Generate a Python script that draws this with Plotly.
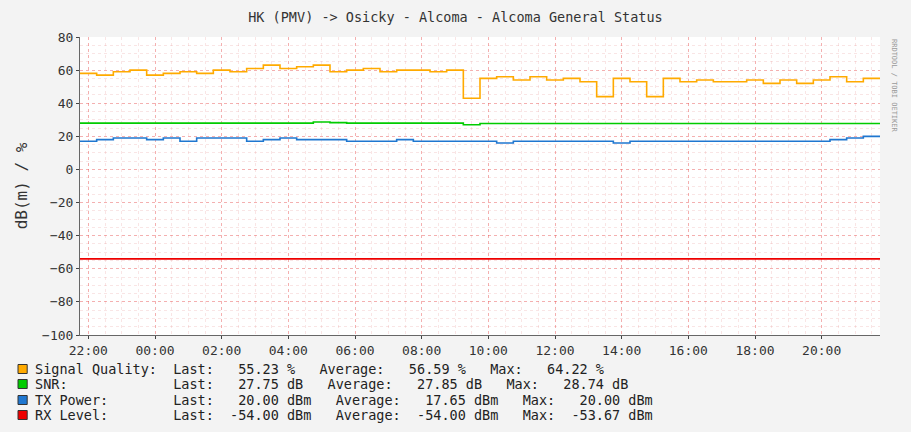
import plotly.graph_objects as go
import pandas as pd

times = pd.date_range("2024-01-01 21:45", periods=49, freq="30min")

signal = [58, 57, 59, 60, 57, 58, 59, 58, 60, 59, 61, 63, 61, 62, 63, 59,
          60, 61, 59, 60, 60, 59, 60, 43, 55, 56, 54, 56, 54, 55, 53, 44,
          55, 53, 44, 55, 53, 54, 53, 53, 54, 52, 54, 52, 54, 56, 53, 55, 55]
snr = [28, 28, 28, 28, 28, 28, 28, 28, 28, 28, 28, 28, 28, 28, 28.7, 28.3,
       28, 28, 28, 28, 28, 28, 28, 27, 27.75, 27.75, 27.75, 27.75, 27.75, 27.75, 27.75, 27.75,
       27.75, 27.75, 27.75, 27.75, 27.75, 27.75, 27.75, 27.75, 27.75, 27.75, 27.75, 27.75, 27.75, 27.75, 27.75, 27.75, 27.75]
tx = [17, 18, 19, 19, 18, 19, 17, 19, 19, 19, 17, 18, 19, 18, 18, 18,
      17, 17, 17, 18, 17, 17, 17, 17, 17, 16, 17, 17, 17, 17, 17, 17,
      16, 17, 17, 17, 17, 17, 17, 17, 17, 17, 17, 17, 17, 18, 19, 20, 20]
rx = [-54] * 49

names = ["Signal Quality:", "SNR:", "TX Power:", "RX Level:"]
colors = ["#FFAA00", "#00CC00", "#1F77D0", "#EE0000"]
legend_lines = [
    "Signal Quality:  Last:   55.23 %   Average:   56.59 %   Max:   64.22 %",
    "SNR:             Last:   27.75 dB   Average:   27.85 dB   Max:   28.74 dB",
    "TX Power:        Last:   20.00 dBm   Average:   17.65 dBm   Max:   20.00 dBm",
    "RX Level:        Last:  -54.00 dBm   Average:  -54.00 dBm   Max:  -53.67 dBm",
]

fig = go.Figure()
for ys, nm, c in zip([signal, snr, tx, rx], names, colors):
    fig.add_trace(go.Scatter(x=times, y=ys, name=nm, mode="lines",
                             line=dict(color=c, width=1.6, shape="hv")))

mono = "DejaVu Sans Mono"
fig.update_layout(
    width=911, height=432, showlegend=False,
    margin=dict(l=80, r=31, t=37, b=97),
    paper_bgcolor="#F3F3F3", plot_bgcolor="white",
    font=dict(family=mono, size=13, color="#333"),
    title=dict(text="HK (PMV) -> Osicky - Alcoma - Alcoma General Status",
               x=0.5, y=0.97, xanchor="center", font=dict(size=13.5)),
)
fig.update_xaxes(
    range=[times[0], times[-1]], automargin=False,
    dtick=7200000, tick0="2024-01-01 22:00", tickformat="%H:%M",
    showgrid=True, gridcolor="rgba(230,80,80,0.45)", griddash="dot", gridwidth=1,
    minor=dict(dtick=1800000, showgrid=True, gridcolor="rgba(230,150,150,0.25)", griddash="dot"),
    showline=True, linecolor="#666", ticks="outside", ticklen=3, zeroline=False,
)
fig.update_yaxes(
    range=[-100, 80], dtick=20, automargin=False,
    title=dict(text="dB(m) / %", standoff=10),
    showgrid=True, gridcolor="rgba(230,80,80,0.45)", griddash="dot",
    minor=dict(dtick=5, showgrid=True, gridcolor="rgba(230,150,150,0.25)", griddash="dot"),
    showline=True, linecolor="#666", ticks="outside", ticklen=3, zeroline=False,
)

ys_px = [369, 384, 400, 415]
for txt, c, py in zip(legend_lines, colors, ys_px):
    yp = 1 - (py - 37) / 298
    fig.add_annotation(xref="paper", yref="paper", x=-0.059, y=yp, xanchor="left",
                       yanchor="middle", showarrow=False,
                       text=txt.replace(" ", "\u00a0"), font=dict(family=mono, size=13.5, color="#222"))
    h = 9 / 298
    fig.add_shape(type="rect", xref="paper", yref="paper", x0=-0.0775, x1=-0.066,
                  y0=yp - h / 2, y1=yp + h / 2, fillcolor=c, line=dict(color="#333", width=1))

fig.add_annotation(xref="paper", yref="paper", x=1.025, y=1.0, yanchor="top",
                   showarrow=False, textangle=90, text="RRDTOOL / TOBI OETIKER",
                   font=dict(family=mono, size=7, color="#999"))

fig.write_html("out.html", config={"displayModeBar": False})

# drop the browser's default body margin so the chart sits at 0,0
with open("out.html") as f:
    page = f.read()
page = page.replace("<head>", "<head><style>body{margin:0}</style>", 1)
with open("out.html", "w") as f:
    f.write(page)
